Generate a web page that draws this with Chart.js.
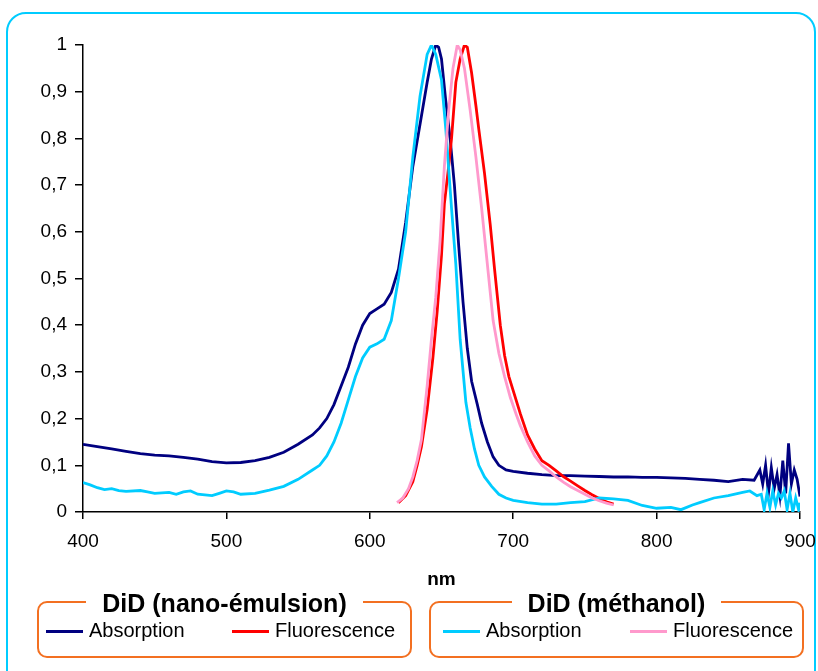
<!DOCTYPE html>
<html>
<head>
<meta charset="utf-8">
<script src="https://cdn.jsdelivr.net/npm/chart.js@4/dist/chart.umd.min.js"></script>
<style>
    html, body { margin: 0; padding: 0; background: #fff; width: 818px; height: 671px; overflow: hidden; }
    body { font-family: 'Liberation Sans', Arial, sans-serif; color: #000; position: relative; }
    #frame { position: absolute; left: 6px; top: 12px; width: 810px; height: 720px; box-sizing: border-box; border: 2px solid #00CCFF; border-radius: 20px; }
    #chartWrap { position: absolute; left: 0; top: 0; }
    .legendBox { position: absolute; top: 601px; height: 57px; box-sizing: border-box; border: 2px solid #F37021; border-radius: 10px; }
    .legendTitle { position: absolute; top: -15px; left: 0; right: 0; text-align: center; line-height: 30px; }
    .legendTitle span { background: #fff; padding: 0 16px; font-weight: bold; font-size: 25px; }
    .swatch { position: absolute; height: 3px; width: 37px; top: 630px; }
    .itemText { position: absolute; top: 618px; font-size: 20px; line-height: 24px; white-space: nowrap; }
</style>
</head>
<body>
<div id="frame"></div>
<div id="chartWrap"><canvas id="spectra" width="818" height="600"></canvas></div>
<div id="legends"></div>

<script>
// DiD (nano-émulsion) - absorption
const absNanoNm = [400, 410, 420, 430, 440, 450, 460, 470, 480, 490, 500, 510, 520, 530, 540, 550, 560, 565, 570, 575,
    580, 585, 590, 595, 600, 605, 610, 615, 620, 625, 630, 635, 640, 643, 646, 648, 650, 653, 656, 659,
    662, 665, 668, 671, 675, 678, 682, 686, 690, 695, 700, 710, 720, 730, 740, 750, 760, 770, 780, 790,
    800, 810, 820, 830, 840, 850, 860, 868, 872, 874, 876, 878, 880, 882, 884, 886, 888, 890, 892, 894,
    896, 898, 900];
const absNanoVal = [0.145, 0.14, 0.135, 0.13, 0.125, 0.122, 0.12, 0.117, 0.113, 0.108, 0.105, 0.106, 0.11, 0.117, 0.128, 0.145, 0.165, 0.18, 0.2, 0.23,
    0.27, 0.31, 0.36, 0.4, 0.425, 0.435, 0.445, 0.47, 0.52, 0.62, 0.74, 0.83, 0.92, 0.97, 1.0, 0.995, 0.97, 0.88, 0.8, 0.7,
    0.57, 0.45, 0.35, 0.28, 0.23, 0.19, 0.15, 0.118, 0.1, 0.09, 0.087, 0.083, 0.08, 0.078, 0.078, 0.077, 0.076, 0.075, 0.075, 0.074,
    0.074, 0.073, 0.072, 0.07, 0.068, 0.065, 0.07, 0.068, 0.09, 0.06, 0.1, 0.04, 0.095, 0.05, 0.08, 0.035, 0.11, 0.04, 0.147, 0.06,
    0.09, 0.07, 0.033];

// DiD (nano-émulsion) - fluorescence
const fluoNanoNm = [620, 625, 630, 633, 636, 640, 644, 647, 650, 652, 655, 657, 660, 663, 666, 668, 671, 674, 676, 680,
    684, 687, 691, 694, 697, 700, 705, 710, 715, 720, 725, 730, 735, 740, 745, 750, 755, 760, 765, 770];
const fluoNanoVal = [0.02, 0.035, 0.065, 0.1, 0.14, 0.22, 0.33, 0.43, 0.55, 0.66, 0.74, 0.8, 0.92, 0.97, 1.0, 0.995, 0.94, 0.87, 0.82, 0.725,
    0.615, 0.52, 0.4, 0.335, 0.29, 0.26, 0.21, 0.165, 0.135, 0.11, 0.1, 0.088, 0.076, 0.066, 0.056, 0.046, 0.037, 0.029, 0.022, 0.017];

// DiD (méthanol) - absorption
const absMethNm = [400, 405, 410, 415, 420, 425, 430, 440, 445, 450, 460, 465, 470, 475, 480, 490, 495, 500, 505, 510,
    520, 530, 540, 550, 560, 565, 570, 575, 580, 585, 590, 595, 600, 605, 610, 615, 620, 625, 630, 635,
    640, 643, 646, 650, 653, 657, 660, 663, 667, 670, 673, 676, 680, 685, 690, 695, 700, 710, 720,
    730, 740, 750, 760, 770, 780, 790, 800, 810, 817, 825, 830, 840, 850, 860, 865, 870, 873, 875, 877,
    879, 881, 883, 885, 887, 889, 891, 893, 895, 897, 899, 900];
const absMethVal = [0.063, 0.058, 0.052, 0.048, 0.05, 0.046, 0.044, 0.046, 0.043, 0.04, 0.042, 0.038, 0.043, 0.045, 0.038, 0.035, 0.04, 0.045, 0.043, 0.038,
    0.04, 0.047, 0.055, 0.07, 0.09, 0.1, 0.12, 0.15, 0.19, 0.24, 0.29, 0.33, 0.353, 0.36, 0.37, 0.41, 0.5, 0.6, 0.76, 0.89,
    0.98, 1.0, 0.98, 0.925, 0.82, 0.65, 0.53, 0.37, 0.235, 0.18, 0.135, 0.1, 0.075, 0.055, 0.038, 0.03, 0.025, 0.02, 0.017,
    0.017, 0.02, 0.022, 0.03, 0.028, 0.025, 0.014, 0.008, 0.01, 0.005, 0.015, 0.02, 0.03, 0.035, 0.042, 0.045, 0.035, 0.038, 0.005, 0.04,
    0.01, 0.045, 0.015, 0.04, 0.03, 0.045, 0.005, 0.04, 0.0, 0.03, 0.005, 0.02];

// DiD (méthanol) - fluorescence
const fluoMethNm = [619, 623, 627, 630, 633, 636, 640, 643, 646, 649, 652, 655, 658, 661, 663, 666, 670, 674, 678, 682,
    686, 690, 694, 698, 702, 705, 710, 715, 720, 725, 730, 735, 740, 745, 750, 755, 760, 765, 770];
const fluoMethVal = [0.02, 0.03, 0.05, 0.075, 0.11, 0.155, 0.27, 0.37, 0.46, 0.58, 0.74, 0.86, 0.95, 1.0, 0.99, 0.95, 0.86, 0.76, 0.65, 0.53,
    0.41, 0.34, 0.29, 0.245, 0.21, 0.185, 0.15, 0.12, 0.1, 0.088, 0.075, 0.064, 0.054, 0.046, 0.038, 0.03, 0.024, 0.019, 0.015];

const xTicks = [400, 500, 600, 700, 800, 900];
const groups = ['DiD (nano-émulsion)', 'DiD (méthanol)'];

const FONT = "'Liberation Sans', Arial, sans-serif";

function points(nm, val) {
    return nm.map((x, i) => ({ x: x, y: val[i] }));
}

const datasets = [
    { label: 'Absorption', group: 0, data: points(absNanoNm, absNanoVal), borderColor: '#000080', order: 4 },
    { label: 'Fluorescence', group: 0, data: points(fluoNanoNm, fluoNanoVal), borderColor: '#FF0000', order: 3 },
    { label: 'Absorption', group: 1, data: points(absMethNm, absMethVal), borderColor: '#00CCFF', order: 2 },
    { label: 'Fluorescence', group: 1, data: points(fluoMethNm, fluoMethVal), borderColor: '#FF99CC', order: 1 }
];

const ctx = document.getElementById('spectra').getContext('2d');
new Chart(ctx, {
    type: 'line',
    data: { datasets: datasets },
    options: {
        responsive: false,
        animation: false,
        layout: { padding: { top: 45, right: 18, bottom: 5, left: 0 } },
        plugins: { legend: { display: false }, tooltip: { enabled: false } },
        elements: {
            point: { radius: 0 },
            line: { borderWidth: 2.8, tension: 0, fill: false }
        },
        scales: {
            x: {
                type: 'linear',
                min: 400,
                max: 900,
                afterBuildTicks: s => { s.ticks = xTicks.map(v => ({ value: v })); },
                ticks: { color: '#000', font: { family: FONT, size: 19 }, padding: 11, maxRotation: 0 },
                grid: { drawOnChartArea: false, tickLength: 7, color: '#000', lineWidth: 1.5 },
                border: { color: '#000', width: 1.5 },
                title: { display: true, text: 'nm', color: '#000', font: { family: FONT, size: 19, weight: 'bold' }, padding: { top: 4, bottom: 4 } },
                afterFit: s => { s.height = 83; s.paddingLeft = 0; s.paddingRight = 0; }
            },
            y: {
                min: 0,
                max: 1,
                ticks: {
                    stepSize: 0.1,
                    color: '#000',
                    font: { family: FONT, size: 19 },
                    padding: 8,
                    callback: v => String(+v.toFixed(1)).replace('.', ',')
                },
                grid: { drawOnChartArea: false, tickLength: 8, color: '#000', lineWidth: 1.5 },
                border: { color: '#000', width: 1.5 },
                afterFit: s => { s.width = 83; }
            }
        }
    }
});

// legend boxes (one per sample), built from the datasets
const boxLayout = [
    { left: 37, width: 375, swatches: [46, 232] },
    { left: 429, width: 375, swatches: [443, 630] }
];
const legends = document.getElementById('legends');
groups.forEach((name, g) => {
    const lay = boxLayout[g];
    const box = document.createElement('div');
    box.className = 'legendBox';
    box.style.left = lay.left + 'px';
    box.style.width = lay.width + 'px';
    box.innerHTML = `<div class="legendTitle"><span>${name}</span></div>`;
    legends.appendChild(box);

    datasets.filter(d => d.group === g).forEach((d, i) => {
        const sw = document.createElement('div');
        sw.className = 'swatch';
        sw.style.left = lay.swatches[i] + 'px';
        sw.style.background = d.borderColor;
        legends.appendChild(sw);

        const t = document.createElement('div');
        t.className = 'itemText';
        t.style.left = (lay.swatches[i] + 43) + 'px';
        t.innerText = d.label;
        legends.appendChild(t);
    });
});
</script>
</body>
</html>
